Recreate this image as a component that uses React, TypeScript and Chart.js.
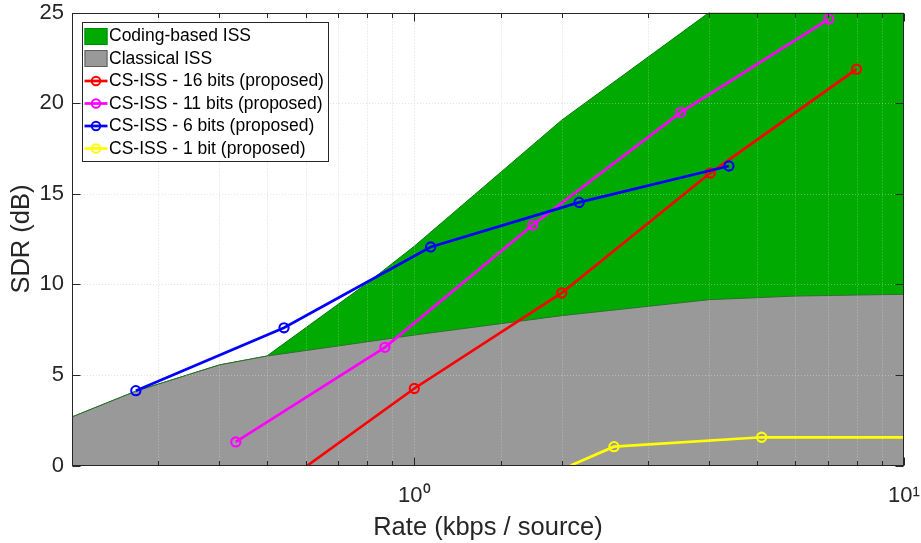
import React, { useEffect, useRef } from 'react';
import { Chart, registerables } from 'chart.js';

Chart.register(...registerables);

// ---- data ----
const codingX = [0.2, 0.27, 0.4, 0.5, 0.8, 1.0, 2.0, 4.0, 10];
const codingY = [2.68, 4.1, 5.55, 6.04, 10.05, 12.1, 19.06, 25.0, 32.8];

const classicalX = [0.2, 0.27, 0.4, 0.5, 0.7, 1.0, 2.0, 4.0, 6.0, 10];
const classicalY = [2.68, 4.1, 5.55, 6.04, 6.6, 7.2, 8.27, 9.15, 9.35, 9.45];

const bits16X = [0.605, 1.0, 2.0, 4.02, 8.0];
const bits16Y = [0, 4.25, 9.52, 16.14, 21.87];
const bits16Marker = [false, true, true, true, true];

const bits11X = [0.432, 0.871, 1.745, 3.5, 7.02];
const bits11Y = [1.3, 6.52, 13.27, 19.49, 24.64];
const bits11Marker = [true, true, true, true, true];

const bits6X = [0.27, 0.542, 1.08, 2.17, 4.39];
const bits6Y = [4.13, 7.6, 12.06, 14.52, 16.53];
const bits6Marker = [true, true, true, true, true];

const bits1X = [2.086, 2.557, 5.12, 10];
const bits1Y = [0, 1.04, 1.56, 1.55];
const bits1Marker = [false, true, true, false];

const seriesLabels = [
  'Coding-based ISS',
  'Classical ISS',
  'CS-ISS - 16 bits (proposed)',
  'CS-ISS - 11 bits (proposed)',
  'CS-ISS - 6 bits (proposed)',
  'CS-ISS - 1 bit (proposed)',
];

const xMajorTicks = [1, 10];
const xMajorLabels = ['10\u2070', '10\u00B9'];
const yTickStep = 5;
const yMin = 0;
const yMax = 25;
const xMin = 0.2;
const xMax = 10;

const FONT = '"Liberation Sans", Arial, Helvetica, sans-serif';
const TEXT = '#262626';

const zip = (xs: number[], ys: number[]) => xs.map((x, i) => ({ x, y: ys[i] }));

function drawGrid(chart: any, color: string) {
  const { ctx, chartArea: a, scales } = chart;
  const xs = scales.x;
  const ys = scales.y;
  ctx.save();
  ctx.beginPath();
  ctx.rect(a.left, a.top, a.right - a.left, a.bottom - a.top);
  ctx.clip();
  ctx.strokeStyle = color;
  ctx.lineWidth = 1;
  ctx.setLineDash([1, 2]);
  xs.ticks.forEach((t: any) => {
    const px = Math.round(xs.getPixelForValue(t.value)) + 0.5;
    ctx.beginPath();
    ctx.moveTo(px, a.top);
    ctx.lineTo(px, a.bottom);
    ctx.stroke();
  });
  ys.ticks.forEach((t: any) => {
    const py = Math.round(ys.getPixelForValue(t.value)) + 0.5;
    ctx.beginPath();
    ctx.moveTo(a.left, py);
    ctx.lineTo(a.right, py);
    ctx.stroke();
  });
  ctx.restore();
}

function drawBox(chart: any) {
  const { ctx, chartArea: a, scales } = chart;
  const xs = scales.x;
  const ys = scales.y;
  ctx.save();
  ctx.strokeStyle = TEXT;
  ctx.lineWidth = 1;
  ctx.setLineDash([]);
  const L = Math.round(a.left) + 0.5;
  const R = Math.round(a.right) - 0.5;
  const T = Math.round(a.top) + 0.5;
  const B = Math.round(a.bottom) - 0.5;
  ctx.strokeRect(L, T, R - L, B - T);
  ctx.beginPath();
  xs.ticks.forEach((t: any) => {
    const lg = Math.log10(t.value);
    const major = Math.abs(lg - Math.round(lg)) < 1e-6;
    const len = major ? 8 : 4.5;
    const px = Math.round(xs.getPixelForValue(t.value)) + 0.5;
    ctx.moveTo(px, B);
    ctx.lineTo(px, B - len);
    ctx.moveTo(px, T);
    ctx.lineTo(px, T + len);
  });
  ys.ticks.forEach((t: any) => {
    const py = Math.round(ys.getPixelForValue(t.value)) + 0.5;
    ctx.moveTo(L, py);
    ctx.lineTo(L + 8, py);
    ctx.moveTo(R, py);
    ctx.lineTo(R - 8, py);
  });
  ctx.stroke();
  ctx.restore();
}

function drawLegend(chart: any) {
  const { ctx, chartArea: a } = chart;
  const ds = chart.data.datasets;
  const font = '17.5px ' + FONT;
  ctx.save();
  ctx.font = font;
  let maxW = 0;
  ds.forEach((d: any) => {
    maxW = Math.max(maxW, ctx.measureText(d.label).width);
  });
  const bx = Math.round(a.left + 10) + 0.5;
  const by = Math.round(a.top + 9) + 0.5;
  const rowH = 22.5;
  const bw = Math.round(26.5 + maxW + 5);
  const bh = Math.round(13.7 * 2 + rowH * (ds.length - 1) - 1);
  ctx.fillStyle = '#ffffff';
  ctx.fillRect(bx, by, bw, bh);
  ctx.strokeStyle = TEXT;
  ctx.lineWidth = 1;
  ctx.strokeRect(bx, by, bw, bh);
  ds.forEach((d: any, i: number) => {
    const cy = by + 13.5 + i * rowH;
    const sx = bx + 2;
    const sw = 23;
    if (d.fill) {
      ctx.fillStyle = d.backgroundColor;
      ctx.fillRect(sx, Math.round(cy - 8.5), sw, 17);
      ctx.strokeStyle = d.legendEdge;
      ctx.strokeRect(sx + 0.5, Math.round(cy - 8.5) + 0.5, sw - 1, 16);
    } else {
      ctx.strokeStyle = d.borderColor;
      ctx.lineWidth = 2.7;
      ctx.beginPath();
      ctx.moveTo(sx, cy);
      ctx.lineTo(sx + sw, cy);
      ctx.stroke();
      ctx.lineWidth = 2;
      ctx.beginPath();
      ctx.arc(sx + sw / 2, cy, 4.2, 0, Math.PI * 2);
      ctx.stroke();
      ctx.lineWidth = 1;
    }
    ctx.fillStyle = '#000000';
    ctx.font = font;
    ctx.textBaseline = 'middle';
    ctx.textAlign = 'left';
    ctx.fillText(d.label, bx + 26.5, cy + 0.5);
  });
  ctx.restore();
}

const matlabPlugin = {
  id: 'matlabLook',
  beforeDatasetsDraw(chart: any) {
    drawGrid(chart, '#d6d6d6');
  },
  afterDatasetDraw(chart: any, args: any) {
    if (args.index === 1) drawGrid(chart, 'rgba(255,255,255,0.33)');
  },
  afterDraw(chart: any) {
    drawBox(chart);
    drawLegend(chart);
  },
};

function lineSeries(label: string, xs: number[], ys: number[], marks: boolean[], color: string, order: number) {
  return {
    label,
    data: zip(xs, ys),
    borderColor: color,
    backgroundColor: color,
    borderWidth: 2.7,
    pointRadius: marks.map((m) => (m ? 4.6 : 0)),
    pointBorderWidth: 2.1,
    pointBackgroundColor: 'rgba(0,0,0,0)',
    pointBorderColor: color,
    fill: false,
    tension: 0,
    order,
  };
}

export default function App() {
  const ref = useRef<HTMLCanvasElement | null>(null);
  useEffect(() => {
    if (!ref.current) return;
    const chart = new Chart(ref.current, {
      type: 'line',
      data: {
        datasets: [
          {
            label: seriesLabels[0],
            data: zip(codingX, codingY),
            borderColor: '#007a00',
            borderWidth: 1,
            backgroundColor: '#00aa00',
            legendEdge: '#008c00',
            fill: 'origin',
            pointRadius: 0,
            tension: 0,
            order: 10,
          } as any,
          {
            label: seriesLabels[1],
            data: zip(classicalX, classicalY),
            borderColor: '#2f6f2f',
            borderWidth: 1,
            backgroundColor: '#999999',
            legendEdge: '#5e5e5e',
            fill: 'origin',
            pointRadius: 0,
            tension: 0,
            order: 9,
          } as any,
          lineSeries(seriesLabels[2], bits16X, bits16Y, bits16Marker, '#ff0000', 3),
          lineSeries(seriesLabels[3], bits11X, bits11Y, bits11Marker, '#ff00ff', 4),
          lineSeries(seriesLabels[4], bits6X, bits6Y, bits6Marker, '#0000ff', 2),
          lineSeries(seriesLabels[5], bits1X, bits1Y, bits1Marker, '#ffff00', 1),
        ],
      },
      options: {
        responsive: false,
        animation: false,
        devicePixelRatio: 1,
        layout: { padding: { left: 0, right: 17, top: 12.5, bottom: 0 } },
        plugins: {
          legend: { display: false },
          tooltip: { enabled: false },
        },
        scales: {
          x: {
            type: 'logarithmic',
            min: xMin,
            max: xMax,
            grid: { display: false, drawTicks: false },
            border: { display: false },
            afterFit: (s: any) => {
              s.height = 77.5;
              s.paddingLeft = 0;
              s.paddingRight = 0;
            },
            ticks: {
              autoSkip: false,
              maxRotation: 0,
              padding: 17,
              color: TEXT,
              font: { family: FONT, size: 22 },
              callback: (v: any) => {
                const n = Number(v);
                const k = xMajorTicks.findIndex((m) => Math.abs(m - n) < 1e-9);
                return k >= 0 ? xMajorLabels[k] : '';
              },
            },
            title: {
              display: true,
              text: 'Rate (kbps / source)',
              color: TEXT,
              font: { family: FONT, size: 25.5 },
              padding: { top: 0, bottom: 0 },
            },
          },
          y: {
            type: 'linear',
            min: yMin,
            max: yMax,
            grid: { display: false, drawTicks: false },
            border: { display: false },
            afterFit: (s: any) => {
              s.width = 72;
              s.paddingTop = 0;
              s.paddingBottom = 0;
            },
            ticks: {
              stepSize: yTickStep,
              padding: 8,
              color: TEXT,
              font: { family: FONT, size: 22 },
            },
            title: {
              display: true,
              text: 'SDR (dB)',
              color: TEXT,
              font: { family: FONT, size: 25.5 },
              padding: { top: 7, bottom: 0 },
            },
          },
        },
      },
      plugins: [matlabPlugin],
    } as any);
    return () => chart.destroy();
  }, []);
  return (
    <div style={{ position: 'fixed', left: 0, top: 0, width: 921, height: 543, background: '#ffffff' }}>
      <canvas ref={ref} width={921} height={543} style={{ display: 'block' }} />
    </div>
  );
}
